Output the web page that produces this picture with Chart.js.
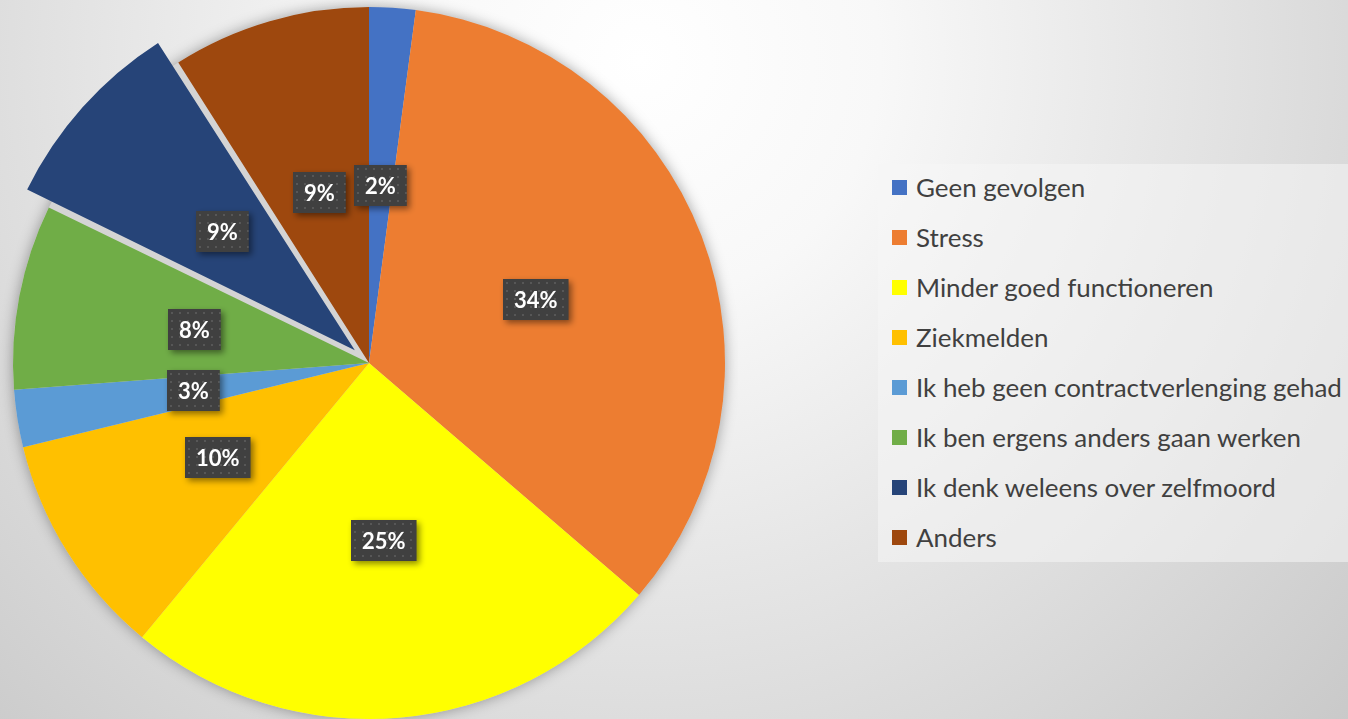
<!DOCTYPE html>
<html>
<head>
<meta charset="utf-8">
<script src="https://cdn.jsdelivr.net/npm/chart.js@4"></script>
<style>
    html, body { margin: 0; padding: 0; }
    body {
        width: 1348px; height: 719px; overflow: hidden; position: relative;
        background: radial-gradient(circle at 640px 60px, #ffffff 0px, #f8f8f8 240px, #c4c4c4 1050px);
        font-family: "Lato", "Noto Sans", sans-serif;
    }
    #wrap { position: absolute; left: 0; top: 0; width: 738px; height: 726px; }
    #legend {
        position: absolute; left: 878px; top: 164px; width: 470px; height: 398px;
        background: rgba(246, 246, 246, 0.55);
    }
    .item { position: absolute; left: 0; height: 30px; line-height: 30px; white-space: nowrap; color: #404040; }
    .item span.box { position: absolute; left: 14px; top: 8px; width: 15px; height: 15px; }
    .item span.txt { position: absolute; left: 38px; top: 0; }
</style>
</head>
<body>
<div id="wrap"><canvas id="pie" width="738" height="726"></canvas></div>
<div id="legend"></div>
<script>
// categorie e valori (percentuali)
const categories = [
    "Geen gevolgen",
    "Stress",
    "Minder goed functioneren",
    "Ziekmelden",
    "Ik heb geen contractverlenging gehad",
    "Ik ben ergens anders gaan werken",
    "Ik denk weleens over zelfmoord",
    "Anders"
];
const values = [2.1, 34.2, 24.7, 10.2, 2.6, 8.4, 8.8, 9.0];
const colors = ["#4472C4", "#ED7D31", "#FFFF00", "#FFC000", "#5B9BD5", "#70AD47", "#264478", "#9E480E"];
const explode = [0, 0, 0, 0, 0, 0, 76, 0];

document.addEventListener("DOMContentLoaded", function () {

    // Legenda HTML
    const legend = document.getElementById("legend");
    const meas = document.createElement("canvas").getContext("2d");
    meas.font = "24px Lato";
    const wLong = meas.measureText(categories[4]).width;
    const fontSize = Math.min(26, 24 * 426 / wLong);
    categories.forEach(function (name, i) {
        const it = document.createElement("div");
        it.className = "item";
        it.style.top = (23 + i * 50 - 15) + "px";
        it.style.fontSize = fontSize + "px";
        it.innerHTML = '<span class="box" style="background:' + colors[i] + '"></span><span class="txt">' + name + '</span>';
        legend.appendChild(it);
    });

    // pattern puntinato per le etichette
    const pc = document.createElement("canvas");
    pc.width = 8; pc.height = 8;
    const px = pc.getContext("2d");
    px.fillStyle = "#404040";
    px.fillRect(0, 0, 8, 8);
    px.fillStyle = "#575757";
    px.fillRect(3, 3, 2, 2);

    // ombra sotto la torta
    const shadowPlugin = {
        id: "pieShadow",
        beforeDatasetsDraw(chart) {
            const arc = chart.getDatasetMeta(0).data[0];
            if (!arc) return;
            const ctx = chart.ctx;
            ctx.save();
            ctx.shadowColor = "rgba(0,0,0,0.35)";
            ctx.shadowBlur = 14;
            ctx.fillStyle = "#d4d4d4";
            ctx.beginPath();
            ctx.arc(arc.x, arc.y, arc.outerRadius, 0, Math.PI * 2);
            ctx.fill();
            ctx.restore();
        }
    };

    // etichette con box scuro
    const labelPlugin = {
        id: "pctLabels",
        afterDatasetsDraw(chart) {
            const ctx = chart.ctx;
            const pattern = ctx.createPattern(pc, "repeat");
            chart.getDatasetMeta(0).data.forEach(function (arc, i) {
                const mid = (arc.startAngle + arc.endAngle) / 2;
                const r = arc.outerRadius / 2 + explode[i] / 4;
                const cx = arc.x + Math.cos(mid) * r;
                const cy = arc.y + Math.sin(mid) * r;
                const txt = Math.round(values[i]) + "%";
                ctx.save();
                ctx.font = "bold 22px Lato";
                const w = ctx.measureText(txt).width + 22;
                const h = 41;
                ctx.shadowColor = "rgba(0,0,0,0.45)";
                ctx.shadowBlur = 6;
                ctx.shadowOffsetX = 3;
                ctx.shadowOffsetY = 3;
                ctx.fillStyle = pattern;
                ctx.translate(Math.round(cx - w / 2), Math.round(cy - h / 2));
                ctx.fillRect(0, 0, w, h);
                ctx.shadowColor = "transparent";
                ctx.fillStyle = "#ffffff";
                ctx.textAlign = "center";
                ctx.textBaseline = "middle";
                ctx.fillText(txt, w / 2, h / 2 + 1);
                ctx.restore();
            });
        }
    };

    new Chart(document.getElementById("pie"), {
        type: "pie",
        data: {
            labels: categories,
            datasets: [{
                data: values,
                backgroundColor: colors,
                borderWidth: 0,
                offset: explode
            }]
        },
        options: {
            responsive: false,
            animation: false,
            radius: 356,
            layout: { padding: 0 },
            plugins: {
                legend: { display: false },
                tooltip: { enabled: false }
            }
        },
        plugins: [shadowPlugin, labelPlugin]
    });
});
</script>
</body>
</html>
